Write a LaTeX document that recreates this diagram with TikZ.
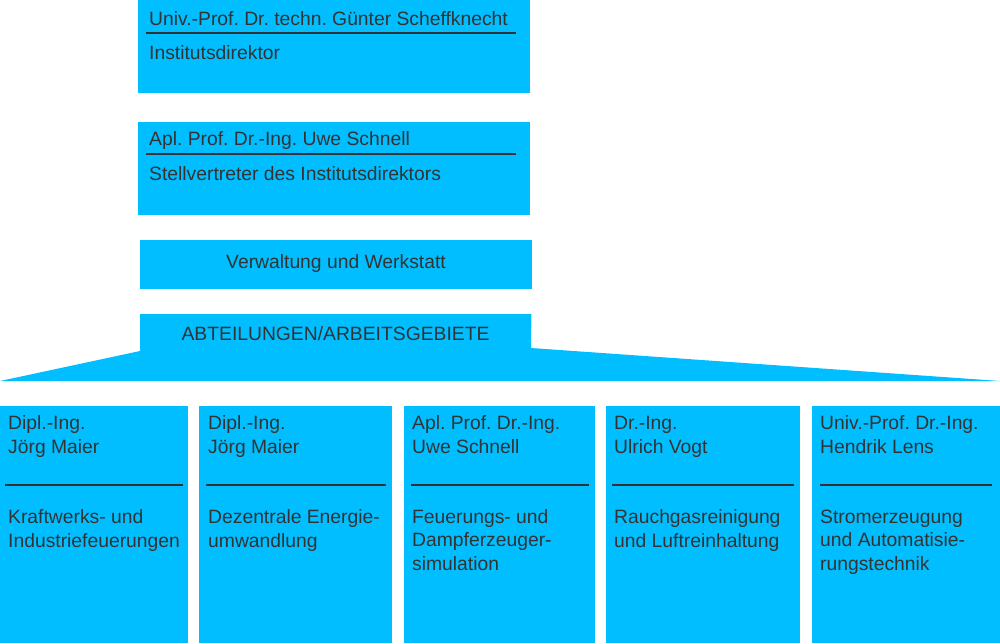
\documentclass[tikz,border=0pt]{standalone}
\usepackage{fontspec}
\setmainfont{Liberation Sans}
\frenchspacing
\definecolor{boxblue}{HTML}{00BEFF}
\definecolor{inktext}{HTML}{333333}
\begin{document}
\begin{tikzpicture}[x=1pt,y=-1pt,
    card/.style={fill=boxblue,inner sep=0pt,anchor=north west},
    txt/.style={text=inktext,inner sep=0pt,anchor=base west,align=left,
      font=\fontsize{19.3}{23.5}\selectfont},
    rule/.style={draw=inktext,line width=2pt}]
  \useasboundingbox (0,0) rectangle (1000,643);
  % leitung
  \node[card,minimum width=392,minimum height=93] (dir) at (138,0) {};
  \node[card,minimum width=392,minimum height=93] (dep) at (138,122) {};
  \node[card,minimum width=392,minimum height=49] (verw) at (140,240) {};
  \node[card,fill=none,minimum width=391,minimum height=67] (abt) at (140,314) {};
  \fill[boxblue] (0,381) -- (140,351) -- (abt.north west) -- (abt.north east)
    -- (531,348) -- (1000,381) -- cycle;
  \draw[rule] (146,33) -- (516,33);
  \draw[rule] (146,154) -- (516,154);
  \draw
    (149,25) node[txt] (dirname) {Univ.-Prof. Dr. techn. Günter Scheffknecht}
    (149,59) node[txt] (dirrole) {Institutsdirektor}
    (149,145) node[txt] (depname) {Apl. Prof. Dr.-Ing. Uwe Schnell}
    (149,180) node[txt] (deprole) {Stellvertreter des Institutsdirektors}
    (336,268) node[txt,anchor=base] (verwtext) {Verwaltung und Werkstatt}
    (335.5,340) node[txt,anchor=base] (abttext) {ABTEILUNGEN/ARBEITSGEBIETE};
  % abteilungen (base = letzte Zeile)
  \node[card,minimum width=188,minimum height=237] (b1) at (0,406) {};
  \node[card,minimum width=193,minimum height=237] (b2) at (199,406) {};
  \node[card,minimum width=191,minimum height=237] (b3) at (404,406) {};
  \node[card,minimum width=194,minimum height=237] (b4) at (606,406) {};
  \node[card,minimum width=188,minimum height=237] (b5) at (812,406) {};
  \begin{scope}[rule]
    \draw (5,485) -- (183,485);
    \draw (206,485) -- (386,485);
    \draw (411,485) -- (589,485);
    \draw (612,485) -- (794,485);
    \draw (820,485) -- (992,485);
  \end{scope}
  \draw
    (8,453) node[txt] (h1) {Dipl.-Ing.\\Jörg Maier}
    (8,547) node[txt] (t1) {Kraftwerks- und\\Industriefeuerungen}
    (208,453) node[txt] (h2) {Dipl.-Ing.\\Jörg Maier}
    (208,547) node[txt] (t2) {Dezentrale Energie-\\umwandlung}
    (412,453) node[txt] (h3) {Apl. Prof. Dr.-Ing.\\Uwe Schnell}
    (412,570) node[txt] (t3) {Feuerungs- und\\Dampferzeuger-\\simulation}
    (614,453) node[txt] (h4) {Dr.-Ing.\\Ulrich Vogt}
    (614,547) node[txt] (t4) {Rauchgasreinigung\\und Luftreinhaltung}
    (820,453) node[txt] (h5) {Univ.-Prof. Dr.-Ing.\\Hendrik Lens}
    (820,570) node[txt] (t5) {Stromerzeugung\\und Automatisie-\\rungstechnik};
\end{tikzpicture}
\end{document}
